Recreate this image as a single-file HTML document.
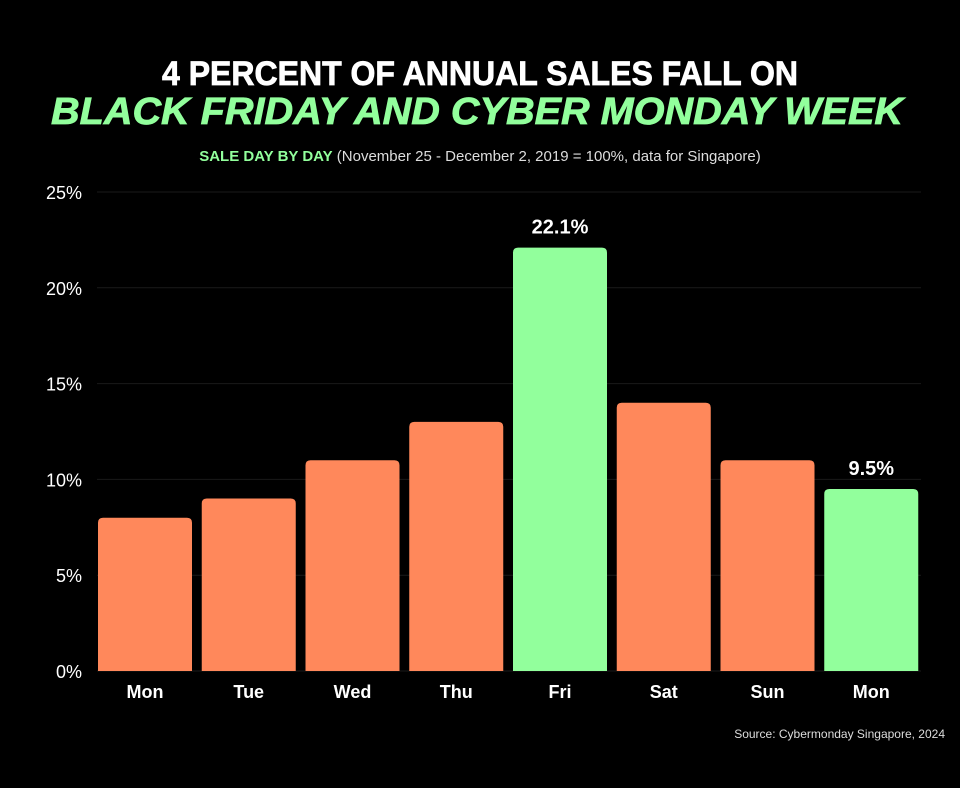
<!DOCTYPE html>
<html><head><meta charset="utf-8"><style>
body{margin:0;background:#000;width:960px;height:788px;overflow:hidden;font-family:"Liberation Sans",sans-serif}
svg{display:block}
</style></head><body>
<svg width="960" height="788">
<text x="480" y="85" text-anchor="middle" fill="#fff" font-size="34" font-weight="900" font-family="Liberation Sans" textLength="636" lengthAdjust="spacingAndGlyphs" stroke="#fff" stroke-width="0.8">4 PERCENT OF ANNUAL SALES FALL ON</text>
<text x="477" y="124" text-anchor="middle" fill="#92FF9C" font-size="38" font-weight="900" font-style="italic" font-family="Liberation Sans" textLength="852" lengthAdjust="spacingAndGlyphs" stroke="#92FF9C" stroke-width="0.8">BLACK FRIDAY AND CYBER MONDAY WEEK</text>
<text x="480" y="161" text-anchor="middle" font-size="15" font-family="Liberation Sans"><tspan fill="#92FF9C" font-weight="bold">SALE DAY BY DAY</tspan><tspan fill="#ddd"> (November 25 - December 2, 2019 = 100%, data for Singapore)</tspan></text>
<g id="grid"></g><g id="bars"></g>
<text x="945" y="738" text-anchor="end" fill="#ddd" font-size="12">Source: Cybermonday Singapore, 2024</text>
</svg>
<script>
const categories=["Mon","Tue","Wed","Thu","Fri","Sat","Sun","Mon"];
const values=[8,9,11,13,22.1,14,11,9.5];
const highlight=[false,false,false,false,true,false,false,true];
const ticks=[0,5,10,15,20,25];
const NS="http://www.w3.org/2000/svg";
const y0=671,y25=192,x0=97,x1=927;
const y=v=>y0-(v/25)*(y0-y25);
const slot=(x1-x0)/categories.length;
const g=document.getElementById('grid'),b=document.getElementById('bars');
function mk(t,a,p){const e=document.createElementNS(NS,t);for(const k in a)e.setAttribute(k,a[k]);p.appendChild(e);return e;}
ticks.forEach(t=>{
 const l=mk('line',{x1:x0,x2:921,y1:y(t),y2:y(t),stroke:'#1a1a1a','stroke-width':1},g);
 
 
 const tx=mk('text',{x:82,y:y(t)+7,'text-anchor':'end',fill:'#fff','font-size':18},g);
 tx.textContent=t+'%';
 
 
});
categories.forEach((c,i)=>{
 const bx=x0+i*slot+1,bw=94,top=y(values[i]);
 const r=mk('path',{d:`M${bx},${y0} V${top+5} Q${bx},${top} ${bx+5},${top} H${bx+bw-5} Q${bx+bw},${top} ${bx+bw},${top+5} V${y0} Z`,fill:highlight[i]?'#92FF9C':'#FF885B'},b);
 
 
 const t=mk('text',{x:bx+bw/2,y:698,'text-anchor':'middle',fill:'#fff','font-size':18,'font-weight':'bold'},b);
 t.textContent=c;
 
 
 if(highlight[i]){
  const v=mk('text',{x:bx+bw/2,y:top-14,'text-anchor':'middle',fill:'#fff','font-size':20,'font-weight':'bold'},b);
  v.textContent=values[i]+'%';
  
  
 }
});
</script>
</body></html>
